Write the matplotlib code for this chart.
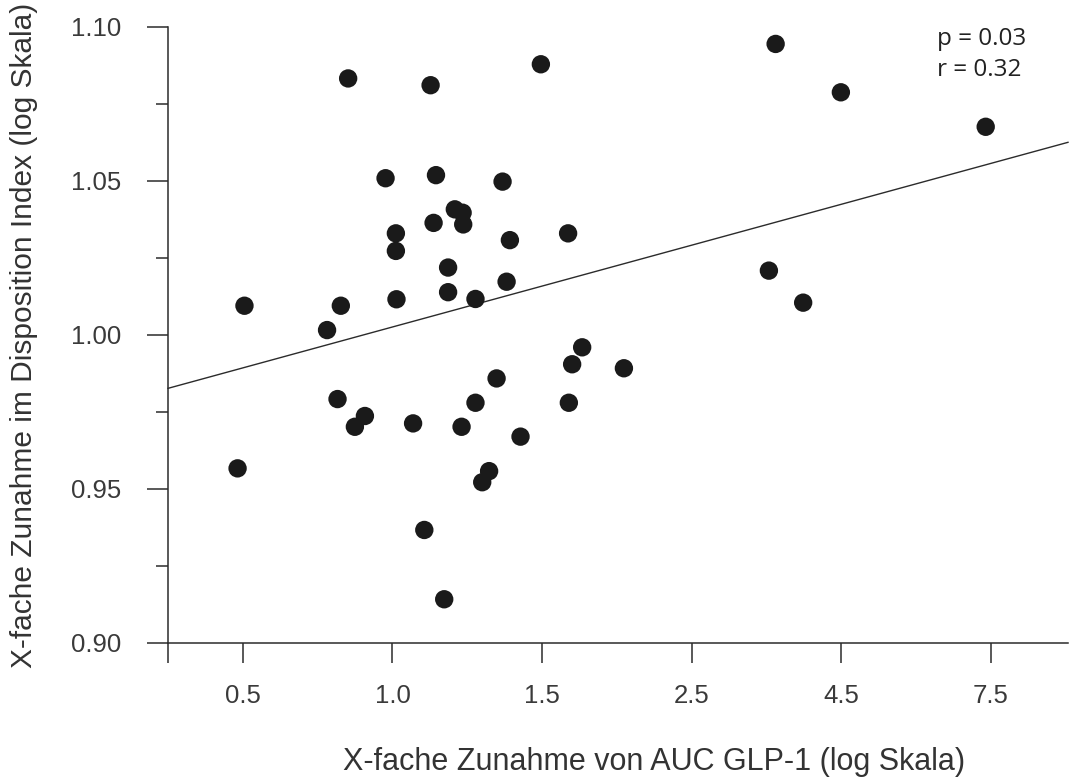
import matplotlib
matplotlib.use("Agg")
import matplotlib.pyplot as plt
import numpy as np

# X positions are in axis-slot units: slot i carries tick label x_tick_labels[i]
x_tick_pos = [0, 1, 2, 3, 4, 5]
x_tick_labels = ["0.5", "1.0", "1.5", "2.5", "4.5", "7.5"]
y_ticks = [0.90, 0.95, 1.00, 1.05, 1.10]
y_minor = [0.925, 0.975, 1.025, 1.075]

x_vals = [-0.035, 0.011, 0.563, 0.633, 0.655, 0.704, 0.749, 0.816, 0.954, 1.023,
          1.023, 1.027, 1.138, 1.213, 1.255, 1.275, 1.291, 1.372, 1.372, 1.346,
          1.417, 1.469, 1.462, 1.473, 1.555, 1.555, 1.600, 1.646, 1.696, 1.736,
          1.763, 1.785, 1.856, 1.992, 2.174, 2.179, 2.201, 2.268, 2.547, 3.516,
          3.561, 3.745, 3.997, 4.965]
y_vals = [0.9567, 1.0095, 1.0016, 0.9792, 1.0095, 1.0833, 0.9702, 0.9737, 1.0509, 1.0330,
          1.0273, 1.0116, 0.9713, 0.9367, 1.0811, 1.0364, 1.0519, 1.0219, 1.0139, 0.9142,
          1.0408, 1.0397, 0.9702, 1.0359, 1.0117, 0.9780, 0.9522, 0.9558, 0.9859, 1.0498,
          1.0173, 1.0308, 0.9670, 1.0879, 1.0330, 0.9780, 0.9905, 0.9960, 0.9892, 1.0209,
          1.0945, 1.0105, 1.0788, 1.0676]

fit_intercept = 0.98932
fit_slope = 0.01328

x_min, x_max = -0.5, 5.515
y_min, y_max = 0.90, 1.10

fig = plt.figure(figsize=(10.7, 7.78), dpi=100)
ax = fig.add_axes([168/1070, 1-643/778, 900/1070, 616/778])

dark = "#2b2b2b"
ax.scatter(x_vals, y_vals, s=175, color="#1a1a1a", edgecolors="none", zorder=3, clip_on=False)

xl = np.array([x_min, x_max])
ax.plot(xl, fit_intercept + fit_slope * xl, color=dark, lw=1.0, zorder=2, clip_on=False)

ax.set_xlim(x_min, x_max)
ax.set_ylim(y_min, y_max)

for s in ["top", "right"]:
    ax.spines[s].set_visible(False)
for s in ["left", "bottom"]:
    ax.spines[s].set_color(dark)
    ax.spines[s].set_linewidth(1.1)

ax.set_xticks([x_min] + x_tick_pos)
ax.set_xticklabels([""] + x_tick_labels)
ax.set_yticks(y_ticks)
ax.set_yticklabels([f"{v:.2f}" for v in y_ticks])
ax.set_yticks(y_minor, minor=True)

ax.tick_params(axis="x", which="major", direction="out", length=14.4, width=1.1,
               color=dark, pad=15)
ax.tick_params(axis="y", which="major", direction="out", length=15, width=1.1,
               color=dark, pad=19)
ax.tick_params(axis="y", which="minor", direction="out", length=8.4, width=1.1,
               color=dark)
for lab in ax.get_xticklabels() + ax.get_yticklabels():
    lab.set_fontfamily("Liberation Sans")
    lab.set_fontsize(18.5)
    lab.set_color("#3a3a3a")

ax.set_xlabel("X-fache Zunahme von AUC GLP-1 (log Skala)", family="Liberation Sans",
              fontsize=22, color="#333333", va="center")
ax.xaxis.set_label_coords(0.54, -0.193)
ax.set_ylabel("X-fache Zunahme im Disposition Index (log Skala)", family="Liberation Sans",
              fontsize=21.5, color="#333333", va="center")
ax.yaxis.set_label_coords(-0.16, 0.50)

ax.text(0.8544, 0.9805, "p = 0.03", transform=ax.transAxes, family="Open Sans",
        fontsize=17.5, color="#222222", va="center", ha="left")
ax.text(0.8544, 0.930, "r = 0.32", transform=ax.transAxes, family="Open Sans",
        fontsize=17.5, color="#222222", va="center", ha="left")

fig.savefig("out.png", dpi=100)
